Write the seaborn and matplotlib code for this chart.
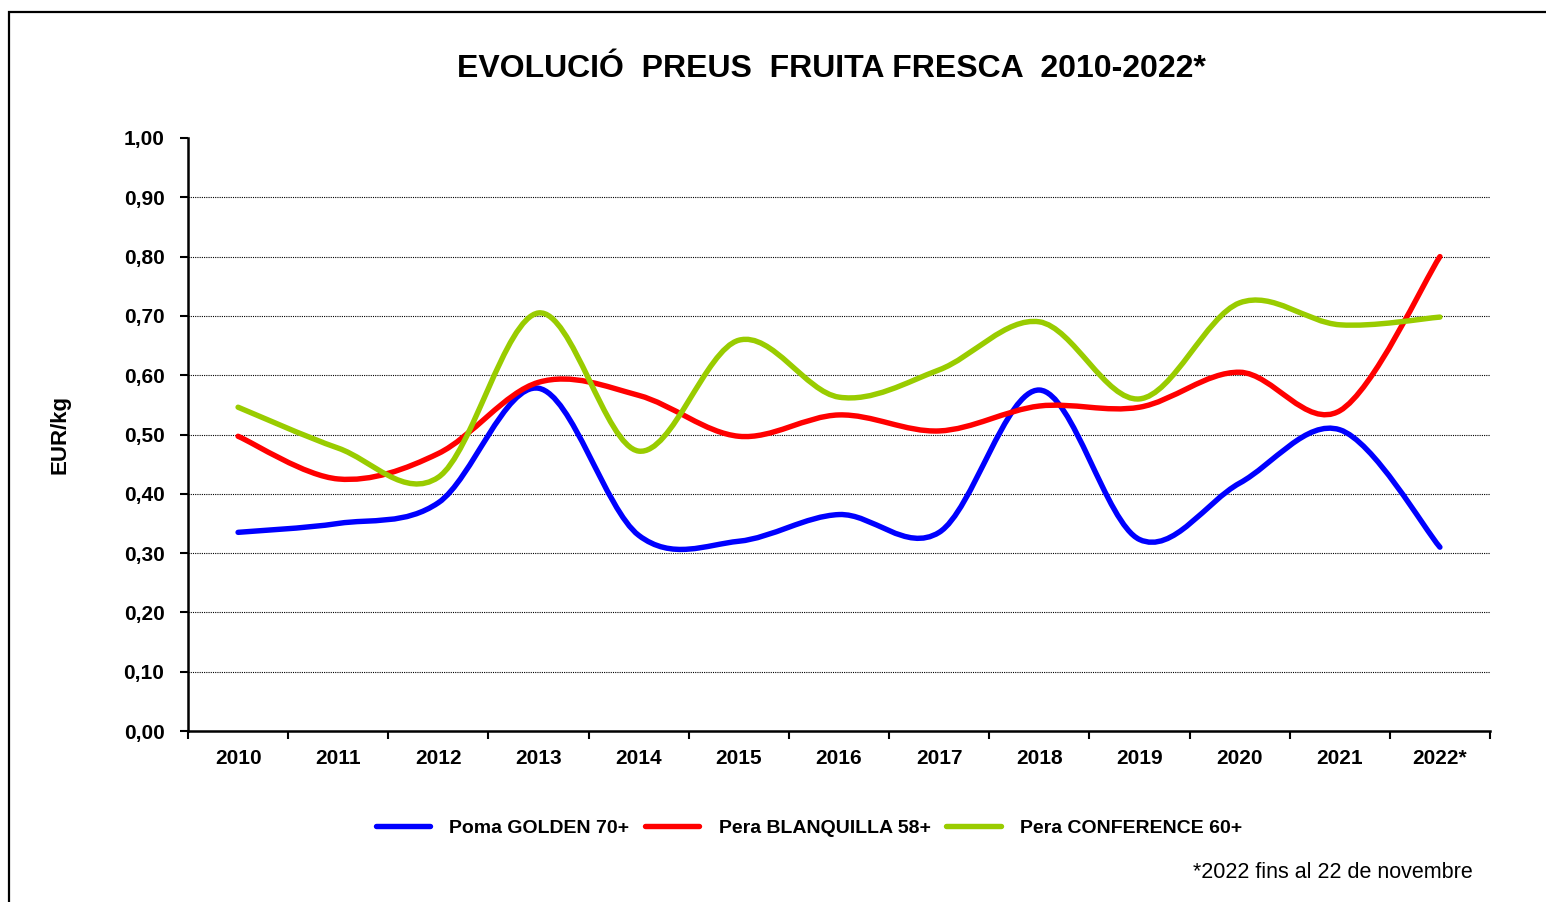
import numpy as np
import matplotlib
matplotlib.use("Agg")
import matplotlib.pyplot as plt
from matplotlib.path import Path
from matplotlib.patches import PathPatch, Rectangle
from matplotlib.lines import Line2D
import seaborn as sns

# data (EUR/kg)
years = ['2010', '2011', '2012', '2013', '2014', '2015', '2016',
         '2017', '2018', '2019', '2020', '2021', '2022*']
golden = [0.335, 0.350, 0.385, 0.578, 0.330, 0.320, 0.365,
          0.335, 0.575, 0.323, 0.418, 0.508, 0.310]
blanquilla = [0.497, 0.425, 0.468, 0.588, 0.566, 0.497, 0.533,
              0.506, 0.548, 0.546, 0.605, 0.540, 0.800]
conference = [0.546, 0.477, 0.428, 0.705, 0.472, 0.659, 0.563,
              0.609, 0.690, 0.560, 0.722, 0.685, 0.698]
series_names = ['Poma GOLDEN 70+', 'Pera BLANQUILLA 58+', 'Pera CONFERENCE 60+']
colors = ['#0000FF', '#FF0000', '#99CC00']
y_ticks = [0.0, 0.1, 0.2, 0.3, 0.4, 0.5, 0.6, 0.7, 0.8, 0.9, 1.0]


def smooth_path(xs, ys):
    # Excel-like smoothed line: cubic Bezier through each data point
    pts = np.column_stack([xs, ys])
    ext = np.vstack([pts[0], pts, pts[-1]])
    verts = [pts[0]]
    codes = [Path.MOVETO]
    for i in range(len(pts) - 1):
        p0, p1, p2, p3 = ext[i], ext[i + 1], ext[i + 2], ext[i + 3]
        verts += [p1 + (p2 - p0) / 6, p2 - (p3 - p1) / 6, p2]
        codes += [Path.CURVE4] * 3
    return Path(verts, codes)


sns.set_theme(style="white")
plt.rcParams['font.family'] = ['Liberation Sans', 'DejaVu Sans']
plt.rcParams['text.color'] = 'black'
plt.rcParams['axes.labelcolor'] = 'black'
plt.rcParams['xtick.color'] = 'black'
plt.rcParams['ytick.color'] = 'black'

fig = plt.figure(figsize=(15.46, 9.02), dpi=100)
fig.patch.set_facecolor('white')
ax = fig.add_axes([188 / 1546, 1 - 731 / 902, 1302 / 1546, 593 / 902])

# outer chart border
fig.patches.append(Rectangle((9 / 1546, -0.05), 1.1, 1 - 12 / 902 + 0.05,
                             transform=fig.transFigure, fill=False,
                             edgecolor='black', linewidth=1.6))

x = np.arange(len(years))
for vals, c in zip([golden, blanquilla, conference], colors):
    ax.add_patch(PathPatch(smooth_path(x, vals), fill=False, edgecolor=c,
                           linewidth=3.9, capstyle='round', joinstyle='round',
                           zorder=3))

ax.set_xlim(-0.5, len(years) - 0.5)
ax.set_ylim(0, 1.0)
ax.set_yticks(y_ticks)
ax.set_yticklabels([f"{v:.2f}".replace('.', ',') for v in y_ticks],
                   fontweight='bold', fontsize=15)
ax.set_xticks(x)
ax.set_xticklabels(years, fontweight='bold', fontsize=15)
ax.set_xticks(np.arange(-0.5, len(years)), minor=True)

ax.tick_params(axis='x', which='major', length=0, pad=13)
ax.tick_params(axis='x', which='minor', length=6, width=1.5, color='black',
               direction='out', bottom=True)
ax.tick_params(axis='y', length=6, width=1.5, color='black', direction='out',
               left=True, pad=11)

for yv in y_ticks[1:-1]:
    ax.axhline(yv, color='black', linewidth=0.8, linestyle=(0, (1, 1)), zorder=1)
ax.grid(False)

sns.despine(ax=ax, top=True, right=True)
for s in ['left', 'bottom']:
    ax.spines[s].set_color('black')
    ax.spines[s].set_linewidth(1.8)

ax.set_ylabel('EUR/kg', fontweight='bold', fontsize=16, labelpad=0)
ax.yaxis.set_label_coords(-(188 - 60) / 1302, 0.5, transform=ax.transAxes)
ax.yaxis.label.set_verticalalignment('center')

fig.text(831 / 1546, 1 - 69 / 902, 'EVOLUCIÓ  PREUS  FRUITA FRESCA  2010-2022*',
         ha='center', va='center', fontsize=23, fontweight='bold')

handles = [Line2D([0], [0], color=c, linewidth=3.9, solid_capstyle='round')
           for c in colors]
leg = fig.legend(handles, series_names, loc='center', ncol=3,
                 bbox_to_anchor=(809 / 1546, 1 - 828 / 902), frameon=False,
                 prop={'weight': 'bold', 'size': 14}, handlelength=2.8,
                 handletextpad=1.0, columnspacing=0.8)

fig.text(1473 / 1546, 1 - 873 / 902, '*2022 fins al 22 de novembre',
         ha='right', va='center', fontsize=15.5)

fig.savefig('out.png', dpi=100, facecolor='white')
